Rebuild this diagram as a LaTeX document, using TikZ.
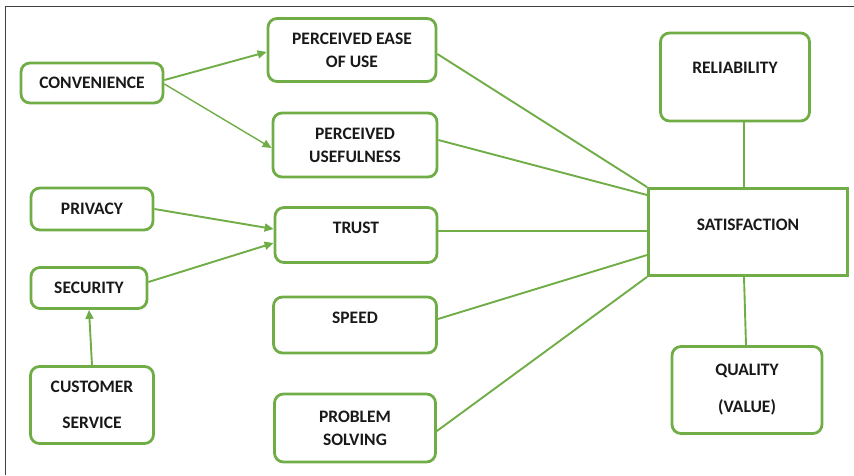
\documentclass[tikz,border=0pt]{standalone}
\usepackage{fontspec}
\setmainfont{Carlito}
\usetikzlibrary{arrows.meta}

\definecolor{leaf}{HTML}{70AD47}

\begin{document}
\begin{tikzpicture}[x=1pt,y=-1pt,>={Triangle[length=9pt,width=8pt]},
  font=\fontsize{17.5}{23}\selectfont\bfseries,
  box/.style={draw=leaf,line width=2.8pt,rounded corners=9pt,align=center,inner sep=2pt,text=black!90},
  hub/.style={draw=leaf,line width=2.8pt,align=center,inner sep=2pt,text=black!90},
  link/.style={draw=leaf,line width=1.9pt}]
\useasboundingbox (0,0) rectangle (854,475);
\draw[black!75,line width=1pt] (5,475) -- (5,6) -- (854,6);
% factors
\node[box,minimum width=142pt,minimum height=40pt] (conv) at (92,83) {CONVENIENCE};
\node[box,minimum width=122pt,minimum height=42pt] (priv) at (92,209) {PRIVACY};
\node[box,minimum width=116pt,minimum height=41pt] (secu) at (89,288) {SECURITY};
\node[box,minimum width=123pt,minimum height=77pt,font=\fontsize{17.5}{36}\selectfont\bfseries] (cust) at (92,405) {CUSTOMER\\SERVICE};
\node[box,minimum width=168pt,minimum height=63pt] (ease) at (352,50) {PERCEIVED EASE\\OF USE};
\node[box,minimum width=164pt,minimum height=64pt] (usef) at (355,145) {PERCEIVED\\USEFULNESS};
\node[box,minimum width=162pt,minimum height=55pt,text depth=14pt] (trust) at (356,235) {TRUST};
\node[box,minimum width=163pt,minimum height=56pt,text depth=14pt] (speed) at (355,325) {SPEED};
\node[box,minimum width=161pt,minimum height=68pt] (prob) at (355,428) {PROBLEM\\SOLVING};
% outcome side
\node[box,minimum width=149pt,minimum height=88pt,text depth=18pt] (reli) at (735,77) {RELIABILITY};
\node[hub,minimum width=199pt,minimum height=87pt,text depth=14pt] (sat) at (748,232) {SATISFACTION};
\node[box,minimum width=150pt,minimum height=87pt,font=\fontsize{17.5}{37}\selectfont\bfseries] (qual) at (747,390) {QUALITY\\(VALUE)};
% arrows into the factors
\draw[link,->] (conv.east) ++(0,-3) -- (ease.west |- 0,52);
\draw[link,->,line width=1.4pt] (conv.east) ++(0,1) -- (usef.west |- 0,148);
\draw[link,->] (priv.east) -- (trust.west |- 0,229);
\draw[link,->] (secu.east |- 0,282) -- (trust.west |- 0,243);
\draw[link,->] (cust.north) -- (secu.south);
% lines to satisfaction
\draw[link] (ease.east |- 0,54) -- (sat.north west);
\draw[link] (usef.east |- 0,140) -- (sat.west |- 0,195);
\draw[link] (trust.east |- 0,231) -- (sat.west |- 0,231);
\draw[link] (speed.east |- 0,319) -- (sat.west |- 0,255);
\draw[link] (prob.east |- 0,431) -- (sat.south west);
\draw[link] (reli.south -| 744,0) -- (sat.north -| 744,0);
\draw[link] (sat.south -| 744,0) -- (qual.north -| 746,0);
\end{tikzpicture}
\end{document}
